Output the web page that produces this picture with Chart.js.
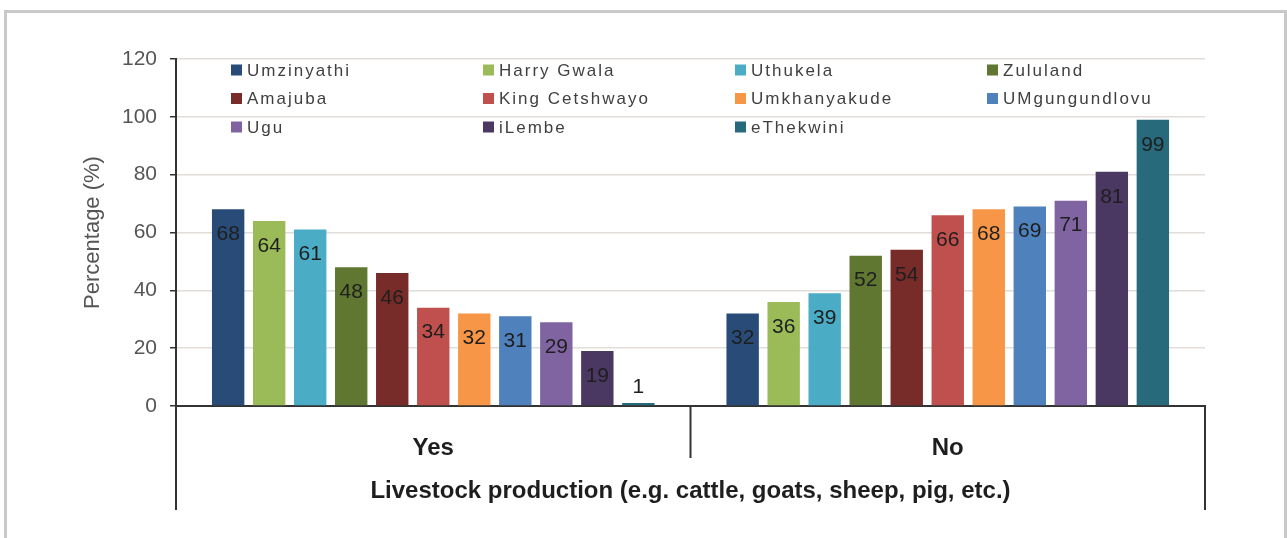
<!DOCTYPE html>
<html>
<head>
<meta charset="utf-8">
<title>Livestock production by district</title>
<script src="https://cdn.jsdelivr.net/npm/chart.js@4.4.0/dist/chart.umd.min.js"></script>
<style>
  html, body { margin: 0; padding: 0; background: #fff; }
  body { width: 1287px; height: 538px; position: relative; overflow: hidden; }
  .frame { position: absolute; left: 4px; top: 10px; width: 1283px; height: 600px;
           border: 3px solid #c9c9c9; box-sizing: border-box; }
  #wrap { position: absolute; left: 0; top: 0; width: 1287px; height: 538px; }
</style>
</head>
<body>
<div class="frame"></div>
<div id="wrap"><canvas id="chart" width="1287" height="538"></canvas></div>
<script>
  /* ── Data ─────────────────────────────────────────────────────── */
  const categories = ['Yes', 'No'];
  const districts = [
    'Umzinyathi', 'Harry Gwala', 'Uthukela', 'Zululand',
    'Amajuba', 'King Cetshwayo', 'Umkhanyakude', 'UMgungundlovu',
    'Ugu', 'iLembe', 'eThekwini',
  ];
  const yesValues = [68, 64, 61, 48, 46, 34, 32, 31, 29, 19, 1];
  const noValues  = [32, 36, 39, 52, 54, 66, 68, 69, 71, 81, 99];
  const yTicks = [0, 20, 40, 60, 80, 100, 120];

  // Office 2007 theme palette (base + darker variants)
  const districtColors = [
    '#284c77', '#9bbb59', '#4bacc6', '#5f7731',
    '#772c2a', '#c0504d', '#f79646', '#4f81bd',
    '#8064a2', '#4b3862', '#276a7c',
  ];

  const INK = '#333333';
  const FONT = "'Liberation Sans', Arial, sans-serif";

  /* ── Legend drawn as a 4-column grid inside the plot ──────────── */
  const gridLegend = {
    id: 'gridLegend',
    afterDatasetsDraw(chart) {
      const { ctx, chartArea } = chart;
      ctx.save();
      ctx.font = `17px ${FONT}`;
      ctx.fillStyle = '#404040';
      ctx.textBaseline = 'middle';
      ctx.letterSpacing = '2px';
      chart.data.datasets.forEach((ds, i) => {
        const col = i % 4, row = Math.floor(i / 4);
        const x = chartArea.left + 55 + col * 252;
        const y = chartArea.top + 11 + row * 28.5;
        ctx.fillStyle = ds.backgroundColor;
        ctx.fillRect(x, y - 5.5, 11, 11);
        ctx.fillStyle = '#404040';
        ctx.fillText(ds.label, x + 16, y + 1);
      });
      ctx.restore();
    },
  };

  /* ── Value labels near the top of each bar ────────────────────── */
  const barLabels = {
    id: 'barLabels',
    afterDatasetsDraw(chart) {
      const { ctx } = chart;
      ctx.save();
      ctx.font = `21px ${FONT}`;
      ctx.fillStyle = '#1e1e1e';
      ctx.textAlign = 'center';
      ctx.textBaseline = 'middle';
      chart.data.datasets.forEach((ds, i) => {
        chart.getDatasetMeta(i).data.forEach((bar, j) => {
          const h = bar.base - bar.y;
          const y = h > 30 ? bar.y + 25 : bar.y - 16;
          ctx.fillText(String(ds.data[j]), bar.x, y);
        });
      });
      ctx.restore();
    },
  };

  /* ── Category brackets below the x axis ───────────────────────── */
  const axisBrackets = {
    id: 'axisBrackets',
    afterDraw(chart) {
      const { ctx, chartArea } = chart;
      const x = chart.scales.x;
      const mid = (x.getPixelForValue(0) + x.getPixelForValue(1)) / 2;
      const y0 = chartArea.bottom;
      ctx.save();
      ctx.strokeStyle = INK;
      ctx.lineWidth = 2;
      ctx.beginPath();
      ctx.moveTo(chartArea.left, y0);  ctx.lineTo(chartArea.left, y0 + 104);
      ctx.moveTo(chartArea.right, y0); ctx.lineTo(chartArea.right, y0 + 104);
      ctx.moveTo(mid, y0);             ctx.lineTo(mid, y0 + 52);
      ctx.stroke();
      ctx.restore();
    },
  };

  new Chart(document.getElementById('chart'), {
    type: 'bar',
    data: {
      labels: categories,
      datasets: districts.map((name, i) => ({
        label: name,
        data: [yesValues[i], noValues[i]],
        backgroundColor: districtColors[i],
        borderWidth: 0,
        categoryPercentage: 0.877,
        barPercentage: 0.79,
      })),
    },
    options: {
      responsive: false,
      animation: false,
      layout: { padding: { top: 59, right: 82, left: 0, bottom: 0 } },
      plugins: {
        legend: { display: false },
        tooltip: { enabled: false },
      },
      scales: {
        x: {
          grid: { display: false },
          border: { display: true, color: INK, width: 2 },
          ticks: {
            padding: 20,
            color: '#1e1e1e',
            font: { family: FONT, size: 24, weight: 'bold' },
          },
          title: {
            display: true,
            text: 'Livestock production (e.g. cattle, goats, sheep, pig, etc.)',
            color: '#1e1e1e',
            font: { family: FONT, size: 24, weight: 'bold' },
            padding: { top: 0, bottom: 32 },
          },
          afterFit(scale) { scale.height = 132; },
        },
        y: {
          min: 0,
          max: 120,
          afterBuildTicks(scale) { scale.ticks = yTicks.map(v => ({ value: v })); },
          grid: {
            color: '#e2ddd9',
            lineWidth: 1.5,
            tickColor: INK,
            tickLength: 6,
          },
          border: { display: true, color: INK, width: 2 },
          ticks: {
            padding: 13,
            color: '#555555',
            font: { family: FONT, size: 21 },
          },
          title: {
            display: true,
            text: 'Percentage (%)',
            color: '#555555',
            font: { family: FONT, size: 22 },
            padding: { top: 80, bottom: 0 },
          },
          afterFit(scale) { scale.width = 176; },
        },
      },
    },
    plugins: [gridLegend, barLabels, axisBrackets],
  });
</script>
</body>
</html>
